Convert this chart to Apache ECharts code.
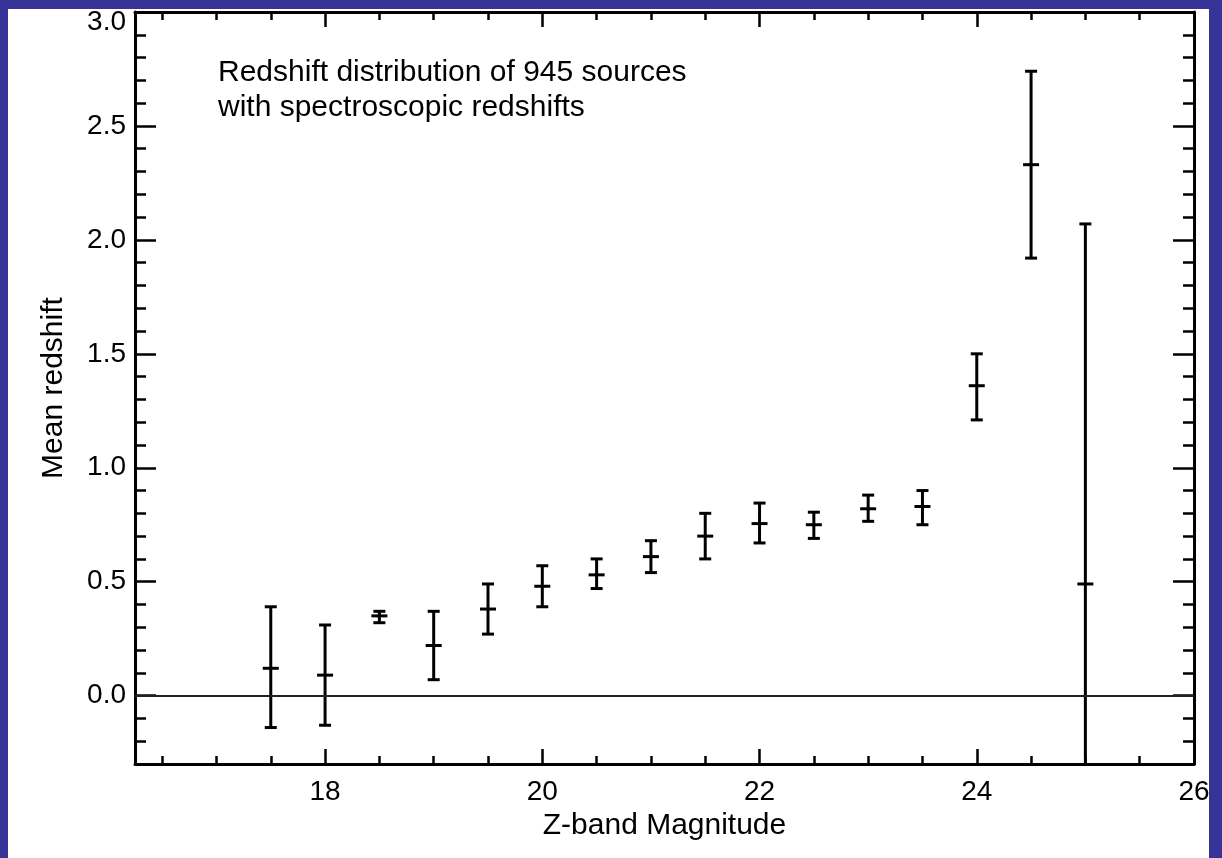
<!DOCTYPE html>
<html>
<head>
<meta charset="utf-8">
<title>Mean redshift vs Z-band magnitude</title>
<script src="https://cdn.jsdelivr.net/npm/echarts@6/dist/echarts.min.js"></script>
<style>
  html, body { margin: 0; padding: 0; background: #363498; width: 1222px; height: 858px; overflow: hidden; }
  #root { position: absolute; left: 8px; top: 9px; width: 1201px; height: 849px; background: #fff; }
</style>
</head>
<body>
<div id="root"></div>
<script>
// magnitude bins and mean redshift with lower / upper error bounds
const magnitudes = [17.5, 18, 18.5, 19, 19.5, 20, 20.5, 21, 21.5, 22, 22.5, 23, 23.5, 24, 24.5, 25]
const meanZ = [0.12, 0.09, 0.35, 0.22, 0.38, 0.48, 0.53, 0.61, 0.70, 0.755, 0.75, 0.82, 0.83, 1.36, 2.33, 0.49]
const zLow = [-0.14, -0.13, 0.32, 0.07, 0.27, 0.39, 0.47, 0.54, 0.60, 0.67, 0.69, 0.765, 0.75, 1.21, 1.92, -1.09]
const zHigh = [0.39, 0.31, 0.37, 0.37, 0.49, 0.57, 0.60, 0.68, 0.80, 0.845, 0.805, 0.88, 0.90, 1.50, 2.74, 2.07]

// tick values
const xMajor = [18, 20, 22, 24, 26]
const xMinor = [16.5, 17, 17.5, 18.5, 19, 19.5, 20.5, 21, 21.5, 22.5, 23, 23.5, 24.5, 25, 25.5]
const yMajor = [0, 0.5, 1, 1.5, 2, 2.5, 3]
const yMinor = [-0.2, -0.1, 0.1, 0.2, 0.3, 0.4, 0.6, 0.7, 0.8, 0.9, 1.1, 1.2, 1.3, 1.4,
  1.6, 1.7, 1.8, 1.9, 2.1, 2.2, 2.3, 2.4, 2.6, 2.7, 2.8, 2.9]

const FONT = "'Liberation Sans', Helvetica, Arial, sans-serif"
const X_MIN = 16.25, X_MAX = 26, Y_MIN = -0.3, Y_MAX = 3.0

const chart = echarts.init(document.getElementById('root'))

const lineStyle = { color: '#000', width: 3 }

function xAxisDef (pos, ticks, len, withLine, withLabel) {
  return {
    type: 'value', position: pos, min: X_MIN, max: X_MAX,
    axisLine: { show: withLine, onZero: false, lineStyle: lineStyle },
    axisTick: { show: true, inside: true, length: len, customValues: ticks, lineStyle: { color: '#000', width: 2.5 } },
    axisLabel: withLabel
      ? { show: true, customValues: ticks, color: '#000', fontSize: 28, fontFamily: FONT, margin: 14 }
      : { show: false },
    splitLine: { show: false }
  }
}

function yAxisDef (pos, ticks, len, withLine, withLabel) {
  return {
    type: 'value', position: pos, min: Y_MIN, max: Y_MAX,
    axisLine: { show: withLine, onZero: false, lineStyle: lineStyle },
    axisTick: { show: true, inside: true, length: len, customValues: ticks, lineStyle: { color: '#000', width: 2.5 } },
    axisLabel: withLabel
      ? {
          show: true, customValues: ticks, color: '#000', fontSize: 28, fontFamily: FONT, margin: 9,
          // the top label sits a little lower so it stays inside the frame
          formatter: v => v === Y_MAX ? '{t|' + v.toFixed(1) + '}' : v.toFixed(1),
          rich: { t: { padding: [20, 0, 0, 0], color: '#000', fontSize: 28, fontFamily: FONT } }
        }
      : { show: false },
    splitLine: { show: false }
  }
}

const xMain = xAxisDef('bottom', xMajor, 15, true, true)
xMain.name = 'Z-band Magnitude'
xMain.nameLocation = 'middle'
xMain.nameGap = 44
xMain.nameTextStyle = { color: '#000', fontSize: 30, fontFamily: FONT }

const yMain = yAxisDef('left', yMajor, 21, true, true)
yMain.name = 'Mean redshift'
yMain.nameLocation = 'middle'
yMain.nameGap = 66
yMain.nameTextStyle = { color: '#000', fontSize: 30, fontFamily: FONT }

const points = magnitudes.map((m, i) => [m, meanZ[i], zLow[i], zHigh[i]])

const option = {
  animation: false,
  backgroundColor: '#fff',
  grid: { left: 127, top: 3, right: 15, bottom: 94, containLabel: false, outerBoundsMode: 'none' },
  xAxis: [
    xMain,
    xAxisDef('bottom', xMinor, 8, false, false),
    xAxisDef('top', xMajor, 15, true, false),
    xAxisDef('top', xMinor, 8, false, false)
  ],
  yAxis: [
    yMain,
    yAxisDef('left', yMinor, 11, false, false),
    yAxisDef('right', yMajor, 21, true, false),
    yAxisDef('right', yMinor, 11, false, false)
  ],
  graphic: [
    { type: 'text', left: 210, top: 49, style: { text: 'Redshift distribution of 945 sources', fill: '#000', font: '30px ' + FONT } },
    { type: 'text', left: 210, top: 84, style: { text: 'with spectroscopic redshifts', fill: '#000', font: '30px ' + FONT } }
  ],
  series: [{
    type: 'custom',
    xAxisIndex: 0,
    yAxisIndex: 0,
    clip: true,
    encode: { x: 0, y: 1 },
    data: points,
    renderItem: function (params, api) {
      const cs = params.coordSys
      const x = api.value(0)
      const pm = api.coord([x, api.value(1)])
      const pl = api.coord([x, api.value(2)])
      const ph = api.coord([x, api.value(3)])
      const bottom = cs.y + cs.height
      const top = cs.y
      const loY = Math.min(pl[1], bottom)
      const hiY = Math.max(ph[1], top)
      const st = { stroke: '#000', lineWidth: 3 }
      const kids = [
        { type: 'line', shape: { x1: pm[0], y1: hiY, x2: pm[0], y2: loY }, style: st },
        { type: 'line', shape: { x1: pm[0] - 8, y1: pm[1], x2: pm[0] + 8, y2: pm[1] }, style: st }
      ]
      if (pl[1] <= bottom) kids.push({ type: 'line', shape: { x1: pm[0] - 6, y1: pl[1], x2: pm[0] + 6, y2: pl[1] }, style: st })
      if (ph[1] >= top) kids.push({ type: 'line', shape: { x1: pm[0] - 6, y1: ph[1], x2: pm[0] + 6, y2: ph[1] }, style: st })
      return { type: 'group', children: kids }
    },
    markLine: {
      silent: true,
      symbol: 'none',
      label: { show: false },
      lineStyle: { color: '#222', width: 2, type: 'solid' },
      data: [{ yAxis: 0 }]
    }
  }]
}

chart.setOption(option)
</script>
</body>
</html>
